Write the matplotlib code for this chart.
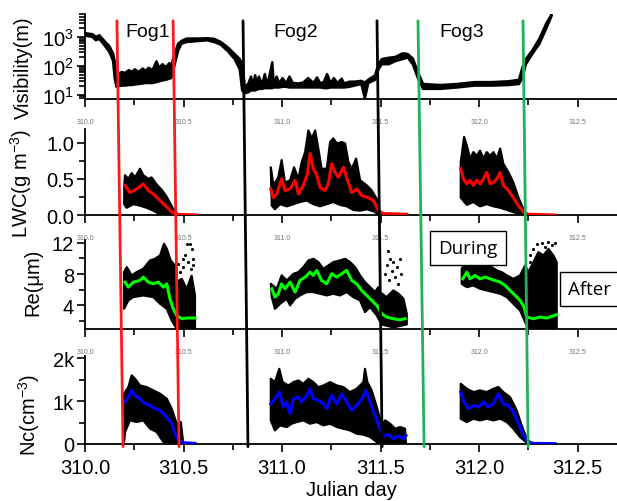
import numpy as np
import matplotlib.pyplot as plt
from matplotlib.patches import ConnectionPatch
from matplotlib.ticker import MultipleLocator, FormatStrFormatter, FixedLocator, FixedFormatter

plt.rcParams['font.family'] = 'Liberation Sans'
plt.rcParams['mathtext.fontset'] = 'custom'
plt.rcParams['mathtext.rm'] = 'Liberation Sans'
plt.rcParams['mathtext.it'] = 'Liberation Sans:italic'
plt.rcParams['mathtext.default'] = 'regular'

# ---- visibility (m): (day, lower edge, upper edge) of the noisy trace ----
vis_pts = [
    # before Fog1
    (310.000, 1150, 1400), (310.035, 1050, 1300), (310.053, 800, 1050), (310.070, 900, 1200),
    (310.096, 540, 760), (310.122, 310, 490), (310.140, 155, 280), (310.148, 40, 155),
    (310.157, 20, 46),
    # Fog1
    (310.166, 21, 55), (310.185, 22, 65), (310.201, 22, 60), (310.220, 23, 75), (310.235, 23, 65),
    (310.250, 24, 80), (310.270, 25, 65), (310.290, 26, 85), (310.305, 27, 70), (310.320, 27, 90),
    (310.340, 27, 75), (310.360, 29, 150), (310.374, 31, 90), (310.390, 33, 120), (310.409, 35, 95),
    (310.425, 38, 130), (310.435, 40, 110),
    # between Fog1 and Fog2
    (310.453, 120, 285), (310.470, 355, 610), (310.487, 610, 760), (310.514, 700, 920),
    (310.566, 750, 920), (310.618, 800, 940), (310.653, 700, 900), (310.687, 560, 700),
    (310.722, 340, 460), (310.757, 180, 270), (310.783, 80, 180), (310.795, 15, 120),
    # Fog2
    (310.809, 12, 20), (310.826, 13, 25), (310.840, 15, 45), (310.850, 15, 22), (310.861, 15, 50),
    (310.870, 16, 25), (310.880, 17, 45), (310.897, 17, 24), (310.910, 18, 55), (310.920, 18, 25),
    (310.931, 18, 40), (310.948, 18, 140), (310.955, 19, 25), (310.970, 19, 45), (310.983, 19, 26),
    (311.000, 20, 40), (311.018, 20, 26), (311.035, 19, 45), (311.052, 19, 27), (311.080, 19, 26),
    (311.105, 19, 28), (311.130, 19, 40), (311.157, 19, 27), (311.175, 19, 42), (311.192, 19, 26),
    (311.210, 18, 30), (311.226, 18, 55), (311.245, 19, 26), (311.260, 19, 40), (311.279, 19, 27),
    (311.300, 19, 38), (311.313, 19, 26), (311.340, 20, 30), (311.365, 22, 30), (311.400, 25, 32),
    (311.418, 8, 28), (311.435, 27, 35), (311.470, 35, 50),
    # between Fog2 and Fog3
    (311.487, 80, 125), (311.504, 120, 180), (311.539, 120, 200), (311.574, 155, 215),
    (311.609, 180, 285), (311.635, 205, 270), (311.661, 120, 190), (311.687, 40, 65),
    # Fog3 and after
    (311.713, 17, 25), (311.800, 17, 23), (311.887, 19, 25), (311.974, 22, 29), (312.061, 22, 29),
    (312.148, 23, 31), (312.200, 25, 35), (312.217, 40, 91), (312.235, 120, 180), (312.269, 280, 370),
    (312.304, 610, 920), (312.339, 2100, 3100), (312.365, 5400, 6200),
]

# ---- LWC (g m-3): (day, value) pairs for upper edge, lower edge, running mean ----
lwc1_top = [(310.199, 0.40), (310.203, 0.55), (310.220, 0.50), (310.237, 0.58), (310.254, 0.52),
            (310.279, 0.64), (310.296, 0.55), (310.321, 0.50), (310.338, 0.52), (310.364, 0.42),
            (310.389, 0.35), (310.415, 0.25), (310.448, 0.08), (310.465, 0.03)]
lwc1_bot = [(310.199, 0.15), (310.211, 0.10), (310.245, 0.15), (310.279, 0.13), (310.313, 0.10),
            (310.347, 0.06), (310.381, 0.01), (310.415, 0.0), (310.465, 0.0)]
lwc1_mean = [(310.203, 0.41), (310.228, 0.31), (310.262, 0.36), (310.296, 0.43), (310.321, 0.34),
             (310.347, 0.29), (310.381, 0.20), (310.415, 0.11), (310.440, 0.04), (310.465, 0.01),
             (310.567, 0.0)]

lwc2_top = [(310.943, 0.66), (310.956, 0.41), (310.981, 0.52), (310.998, 0.76), (311.015, 0.45),
            (311.041, 0.48), (311.061, 0.66), (311.083, 0.50), (311.100, 0.73), (311.117, 0.87),
            (311.134, 1.17), (311.151, 1.06), (311.168, 1.17), (311.184, 0.92), (311.201, 0.64),
            (311.227, 0.64), (311.244, 1.01), (311.260, 1.06), (311.278, 0.99), (311.303, 1.01),
            (311.320, 0.99), (311.337, 0.73), (311.354, 0.64), (311.376, 0.78), (311.396, 0.48),
            (311.430, 0.41), (311.455, 0.34), (311.481, 0.22), (311.494, 0.04)]
lwc2_bot = [(310.948, 0.13), (310.964, 0.08), (310.990, 0.15), (311.024, 0.12), (311.058, 0.15),
            (311.091, 0.18), (311.125, 0.20), (311.159, 0.15), (311.193, 0.12), (311.227, 0.15),
            (311.260, 0.18), (311.294, 0.14), (311.328, 0.12), (311.362, 0.07), (311.396, 0.06),
            (311.430, 0.08), (311.464, 0.05), (311.489, 0.01)]
lwc2_mean = [(310.943, 0.36), (310.956, 0.24), (310.973, 0.29), (310.998, 0.50), (311.015, 0.34),
             (311.041, 0.36), (311.066, 0.48), (311.083, 0.29), (311.108, 0.41), (311.129, 0.57),
             (311.142, 0.85), (311.159, 0.64), (311.176, 0.55), (311.193, 0.38), (311.218, 0.34),
             (311.235, 0.43), (311.252, 0.71), (311.269, 0.59), (311.286, 0.52), (311.311, 0.66),
             (311.328, 0.52), (311.354, 0.31), (311.379, 0.36), (311.404, 0.27), (311.438, 0.24),
             (311.464, 0.20), (311.489, 0.06), (311.514, 0.02), (311.633, 0.01)]

lwc3_top = [(311.907, 0.73), (311.924, 1.08), (311.938, 0.96), (311.954, 0.78), (311.971, 0.87),
            (311.988, 0.82), (312.005, 0.89), (312.022, 0.78), (312.039, 0.87), (312.056, 0.82),
            (312.073, 0.87), (312.090, 0.78), (312.107, 0.92), (312.123, 0.71), (312.149, 0.59),
            (312.174, 0.45), (312.200, 0.24), (312.225, 0.08), (312.239, 0.01)]
lwc3_bot = [(311.907, 0.24), (311.938, 0.14), (311.971, 0.18), (312.005, 0.12), (312.039, 0.15),
            (312.073, 0.12), (312.107, 0.10), (312.141, 0.07), (312.174, 0.04), (312.208, 0.01),
            (312.239, 0.0)]
lwc3_mean = [(311.907, 0.64), (311.920, 0.50), (311.938, 0.43), (311.954, 0.48), (311.971, 0.41),
             (311.988, 0.48), (312.005, 0.43), (312.022, 0.50), (312.039, 0.59), (312.056, 0.43),
             (312.073, 0.45), (312.090, 0.50), (312.107, 0.59), (312.123, 0.41), (312.149, 0.34),
             (312.174, 0.24), (312.200, 0.13), (312.225, 0.04), (312.250, 0.01), (312.386, 0.0)]

# ---- Re (um) ----
re1_top = [(310.198, 8.25), (310.212, 8.89), (310.237, 7.83), (310.262, 8.25), (310.296, 8.68),
           (310.330, 9.74), (310.355, 9.95), (310.381, 10.38), (310.401, 11.87), (310.415, 11.23),
           (310.435, 9.74), (310.457, 9.10), (310.465, 7.0), (310.491, 7.4), (310.516, 6.1),
           (310.541, 7.8), (310.558, 5.3)]
re1_bot = [(310.198, 3.58), (310.220, 4.65), (310.245, 5.07), (310.296, 5.28), (310.347, 5.07),
           (310.381, 4.22), (310.415, 3.58), (310.440, 2.1), (310.465, 1.03), (310.558, 1.03)]
re1_mean = [(310.203, 6.98), (310.220, 6.34), (310.245, 6.98), (310.279, 7.19), (310.296, 7.62),
            (310.321, 6.98), (310.347, 6.77), (310.372, 6.98), (310.398, 6.34), (310.415, 6.77),
            (310.431, 4.86), (310.448, 3.58), (310.465, 2.73), (310.491, 2.31), (310.516, 2.40),
            (310.558, 2.40)]
re1_dots = [(310.516, 11.86), (310.533, 11.86), (310.541, 11.23), (310.507, 10.38), (310.524, 9.53),
            (310.496, 9.95), (310.536, 8.68), (310.550, 9.10), (310.482, 8.25), (310.499, 8.89),
            (310.546, 9.95), (310.474, 9.31)]

re2_top = [(310.943, 6.77), (310.973, 6.13), (310.998, 7.83), (311.024, 7.19), (311.058, 8.04),
           (311.083, 8.25), (311.108, 8.89), (311.134, 9.74), (311.159, 9.95), (311.184, 9.53),
           (311.210, 8.68), (311.235, 9.10), (311.260, 9.53), (311.294, 9.74), (311.320, 9.95),
           (311.345, 9.53), (311.371, 8.89), (311.396, 7.83), (311.421, 6.98), (311.447, 6.34),
           (311.472, 5.71), (311.489, 6.34), (311.497, 5.7), (311.531, 5.07), (311.565, 5.92),
           (311.591, 5.50), (311.616, 4.86), (311.633, 2.95)]
re2_bot = [(310.948, 5.07), (310.964, 3.58), (310.990, 4.22), (311.024, 4.86), (311.041, 4.01),
           (311.066, 4.86), (311.091, 5.28), (311.125, 5.71), (311.159, 5.71), (311.193, 5.50),
           (311.227, 5.28), (311.260, 5.50), (311.294, 5.28), (311.328, 5.71), (311.362, 5.07),
           (311.396, 4.65), (311.421, 3.16), (311.447, 3.80), (311.481, 2.73), (311.506, 1.58),
           (311.565, 1.2), (311.633, 1.58)]
re2_mean = [(310.948, 6.13), (310.964, 5.07), (310.981, 5.50), (310.998, 6.77), (311.015, 6.13),
            (311.041, 6.98), (311.066, 5.71), (311.091, 7.19), (311.117, 7.62), (311.142, 8.25),
            (311.159, 7.83), (311.176, 8.47), (311.201, 7.19), (311.227, 6.77), (311.252, 8.04),
            (311.278, 7.62), (311.303, 8.04), (311.328, 8.47), (311.354, 7.19), (311.379, 6.77),
            (311.404, 5.92), (311.430, 5.28), (311.455, 4.65), (311.481, 4.01), (311.506, 2.95),
            (311.531, 2.52), (311.565, 2.31), (311.599, 2.18), (311.624, 2.31)]
re2_dots = [(311.540, 11.01), (311.548, 9.95), (311.531, 9.10), (311.565, 9.53), (311.557, 8.46),
            (311.582, 8.89), (311.599, 9.95), (311.574, 7.62), (311.602, 8.04), (311.523, 8.04),
            (311.591, 6.77), (311.545, 7.19)]

re3_top = [(311.912, 8.68), (311.938, 9.74), (311.963, 9.10), (311.988, 9.53), (312.014, 9.31),
           (312.039, 9.10), (312.064, 8.89), (312.090, 8.47), (312.115, 8.25), (312.141, 7.83),
           (312.174, 7.40), (312.208, 7.83), (312.234, 9.10), (312.250, 8.25), (312.276, 9.53),
           (312.301, 10.8), (312.326, 10.38), (312.352, 11.2), (312.377, 10.38), (312.394, 9.53)]
re3_bot = [(311.912, 6.76), (311.938, 6.34), (311.971, 6.55), (312.005, 6.13), (312.039, 5.92),
           (312.073, 5.71), (312.107, 5.50), (312.141, 5.07), (312.174, 4.22), (312.208, 3.37),
           (312.234, 1.88), (312.250, 1.03), (312.394, 1.03)]
re3_mean = [(311.917, 7.40), (311.938, 8.25), (311.954, 7.40), (311.980, 7.83), (312.005, 7.40),
            (312.030, 7.62), (312.056, 7.40), (312.081, 7.19), (312.107, 6.98), (312.132, 6.55),
            (312.157, 5.92), (312.183, 5.28), (312.208, 4.65), (312.228, 3.80), (312.242, 2.52),
            (312.276, 2.31), (312.310, 2.52), (312.344, 2.40), (312.394, 2.82)]
re3_dots = [(312.293, 11.86), (312.318, 12.0), (312.352, 12.08), (312.386, 12.0), (312.276, 11.23),
            (312.369, 11.65), (312.335, 11.44), (312.259, 10.38), (312.259, 9.53)]

# ---- Nc (cm-3) ----
nc1_top = [(310.198, 1170), (310.220, 1326), (310.237, 1597), (310.254, 1520), (310.279, 1364),
           (310.313, 1326), (310.347, 1248), (310.381, 1170), (310.415, 1054), (310.440, 822),
           (310.465, 473), (310.486, 512), (310.496, 124)]
nc1_bot = [(310.198, 50), (310.203, 279), (310.228, 550), (310.262, 512), (310.296, 550),
           (310.330, 357), (310.364, 279), (310.398, 46), (310.448, 15), (310.496, 0)]
nc1_mean = [(310.203, 977), (310.220, 1093), (310.237, 1248), (310.254, 1132), (310.279, 1054),
            (310.305, 938), (310.330, 899), (310.355, 822), (310.381, 783), (310.415, 628),
            (310.440, 473), (310.457, 240), (310.474, 85), (310.499, 31), (310.558, 15)]

nc2_top = [(310.943, 1519), (310.964, 1441), (310.986, 1751), (311.003, 1441), (311.032, 1364),
           (311.058, 1441), (311.083, 1480), (311.108, 1403), (311.134, 1519), (311.159, 1441),
           (311.184, 1326), (311.210, 1364), (311.244, 1441), (311.278, 1364), (311.311, 1326),
           (311.345, 1209), (311.379, 1287), (311.413, 1441), (311.421, 1751), (311.433, 1441),
           (311.455, 1248), (311.481, 860), (311.506, 434), (311.523, 550), (311.548, 473),
           (311.574, 356), (311.599, 395), (311.624, 356)]
nc2_bot = [(310.943, 550), (310.964, 317), (310.990, 434), (311.024, 395), (311.049, 473),
           (311.074, 511), (311.108, 550), (311.142, 473), (311.176, 511), (311.210, 434),
           (311.244, 473), (311.278, 395), (311.311, 356), (311.345, 317), (311.379, 240),
           (311.413, 217), (311.447, 163), (311.481, 46), (311.514, 8), (311.629, 8)]
nc2_mean = [(310.943, 937), (310.964, 1053), (310.986, 1209), (311.007, 860), (311.024, 977),
            (311.041, 705), (311.058, 1053), (311.083, 1093), (311.100, 977), (311.125, 1132),
            (311.142, 1287), (311.159, 1053), (311.184, 1016), (311.210, 937), (311.227, 822),
            (311.252, 1132), (311.278, 937), (311.303, 1170), (311.328, 977), (311.354, 783),
            (311.379, 899), (311.404, 1053), (311.426, 1248), (311.447, 977), (311.472, 666),
            (311.497, 356), (311.514, 186), (311.540, 217), (311.565, 124), (311.591, 186),
            (311.616, 124), (311.629, 201)]

nc3_top = [(311.907, 1403), (311.938, 1287), (311.971, 1209), (312.005, 1248), (312.039, 1209),
           (312.073, 1287), (312.098, 1326), (312.123, 1209), (312.157, 1093), (312.191, 783),
           (312.216, 434), (312.242, 124), (312.259, 46)]
nc3_bot = [(311.907, 589), (311.938, 511), (311.971, 589), (312.005, 550), (312.039, 589),
           (312.073, 550), (312.107, 589), (312.141, 511), (312.174, 357), (312.208, 163),
           (312.242, 31), (312.259, 0)]
nc3_mean = [(311.907, 1209), (311.924, 977), (311.946, 822), (311.971, 899), (311.997, 860),
            (312.022, 977), (312.047, 860), (312.073, 938), (312.098, 1170), (312.123, 938),
            (312.149, 899), (312.174, 744), (312.200, 473), (312.225, 201), (312.250, 46),
            (312.276, 15), (312.386, 8)]

# ---- hand-drawn dividing lines: (day at top, day at bottom, colour) ----
div_top = [310.162, 310.447, 310.802, 311.482, 311.690, 312.223]
div_bot = [310.193, 310.477, 310.827, 311.508, 311.721, 312.249]
div_col = ['#ff1a1a', '#ff1a1a', 'black', 'black', '#1db35a', '#1db35a']

fog_names = ['Fog1', 'Fog2', 'Fog3']
fog_pos = [310.32, 311.07, 311.91]

W, H = 617, 502


def rect(top, bottom):
    return [85 / W, 1 - bottom / H, 532 / W, (bottom - top) / H]


def cloud(ax, top, bot):
    top = np.array(top)
    bot = np.array(bot)
    xs = np.r_[top[:, 0], bot[::-1, 0]]
    ys = np.r_[top[:, 1], bot[::-1, 1]]
    ax.fill(xs, ys, facecolor='black', edgecolor='black', lw=1.6, joinstyle='round', zorder=2)


def mean_line(ax, pts, color):
    pts = np.array(pts)
    ax.plot(pts[:, 0], pts[:, 1], color=color, lw=2.2, zorder=3)


def dots(ax, pts):
    pts = np.array(pts)
    ax.scatter(pts[:, 0], pts[:, 1], s=5, color='black', zorder=2, linewidths=0)


fig = plt.figure(figsize=(W / 100, H / 100), dpi=100)
axes = [fig.add_axes(rect(15, 100)), fig.add_axes(rect(130, 216)),
        fig.add_axes(rect(241, 330)), fig.add_axes(rect(357, 445))]

for i, ax in enumerate(axes):
    for s in ['top', 'right']:
        ax.spines[s].set_visible(False)
    for s in ['left', 'bottom']:
        ax.spines[s].set_linewidth(1.3)
    ax.set_xlim(310.0, 312.7)
    ax.xaxis.set_major_locator(MultipleLocator(0.5))
    ax.xaxis.set_minor_locator(MultipleLocator(0.25))
    ax.xaxis.set_major_formatter(FormatStrFormatter('%.1f'))
    ax.tick_params(which='both', direction='out', width=1.2)
    ax.tick_params(which='major', length=6)
    ax.tick_params(which='minor', length=4.5)
    ax.tick_params(axis='y', labelsize=14.5, pad=2)
    if i < 3:
        ax.tick_params(axis='x', labelsize=5, labelcolor='0.45', pad=8)
    else:
        ax.tick_params(axis='x', labelsize=14.5, pad=4)

# visibility
ax = axes[0]
ax.set_yscale('log')
vis = np.array(vis_pts, dtype=float)
ax.fill_between(vis[:, 0], vis[:, 1], vis[:, 2], facecolor='black', edgecolor='black', lw=1.8)
ax.set_ylim(7.3, 6200)
ax.set_yticks([10, 100, 1000])
ax.set_ylabel('Visibility(m)', fontsize=14.5)
ax.yaxis.set_label_coords(-0.098, 0.38)
for name, xp in zip(fog_names, fog_pos):
    ax.text(xp, 0.79, name, transform=ax.get_xaxis_transform(), ha='center', va='center', fontsize=14)

# LWC
ax = axes[1]
for top, bot, mean in [(lwc1_top, lwc1_bot, lwc1_mean), (lwc2_top, lwc2_bot, lwc2_mean),
                       (lwc3_top, lwc3_bot, lwc3_mean)]:
    cloud(ax, top, bot)
    mean_line(ax, mean, '#ff0000')
ax.set_ylim(0, 1.19)
ax.yaxis.set_major_locator(MultipleLocator(0.5))
ax.yaxis.set_minor_locator(MultipleLocator(0.25))
ax.yaxis.set_major_formatter(FormatStrFormatter('%.1f'))
ax.set_ylabel('LWC(g m$^{-3}$)', fontsize=14.5)
ax.yaxis.set_label_coords(-0.095, 0.38)

# Re
ax = axes[2]
for top, bot, mean, d in [(re1_top, re1_bot, re1_mean, re1_dots), (re2_top, re2_bot, re2_mean, re2_dots),
                          (re3_top, re3_bot, re3_mean, re3_dots)]:
    cloud(ax, top, bot)
    dots(ax, d)
    mean_line(ax, mean, '#00ff00')
ax.set_ylim(1.0, 12.35)
ax.yaxis.set_major_locator(FixedLocator([4, 8, 12]))
ax.yaxis.set_minor_locator(FixedLocator([2, 6, 10]))
ax.set_ylabel('Re(\u03bcm)', fontsize=14.5)
ax.yaxis.set_label_coords(-0.08, 0.54)

# Nc
ax = axes[3]
for top, bot, mean in [(nc1_top, nc1_bot, nc1_mean), (nc2_top, nc2_bot, nc2_mean),
                       (nc3_top, nc3_bot, nc3_mean)]:
    cloud(ax, top, bot)
    mean_line(ax, mean, '#0000ff')
ax.set_ylim(0, 2050)
ax.yaxis.set_major_locator(FixedLocator([0, 1000, 2000]))
ax.yaxis.set_major_formatter(FixedFormatter(['0', '1k', '2k']))
ax.yaxis.set_minor_locator(FixedLocator([500, 1500]))
ax.set_ylabel('Nc(cm$^{-3}$)', fontsize=14.5)
ax.yaxis.set_label_coords(-0.08, 0.34)
ax.set_xlabel('Julian day', fontsize=14.5, labelpad=2)

# slanted dividing lines drawn across all panels
for xt, xb, c in zip(div_top, div_bot, div_col):
    con = ConnectionPatch(xyA=(xt, 0.92), coordsA=axes[0].get_xaxis_transform(),
                          xyB=(xb, -0.03), coordsB=axes[3].get_xaxis_transform(),
                          color=c, lw=2.0, zorder=5)
    fig.add_artist(con)

box = dict(boxstyle='square,pad=0.45', facecolor='white', edgecolor='black', lw=1.0)
fig.text(468 / W, 1 - 249 / H, 'During', ha='center', va='center', fontsize=13.5,
         family='Open Sans', bbox=box, zorder=6)
fig.text(590 / W, 1 - 290 / H, 'After', ha='center', va='center', fontsize=13.5,
         family='Open Sans', bbox=box, zorder=6)

fig.savefig('out.png', dpi=100)
